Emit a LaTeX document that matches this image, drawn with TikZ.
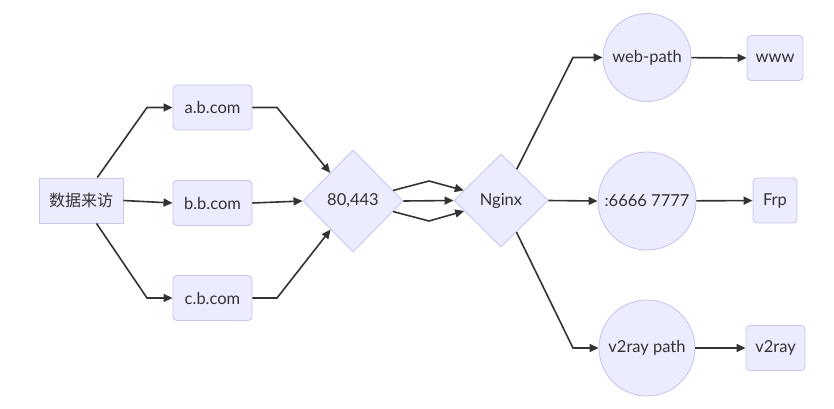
\documentclass[tikz,border=0pt]{standalone}
\usepackage{fontspec}
\setmainfont{Lato}
\newfontfamily\cjk{Noto Sans CJK SC}
\usetikzlibrary{shapes.geometric,arrows.meta}
\definecolor{nfill}{HTML}{ECECFF}
\definecolor{nline}{HTML}{C9C6EE}
\definecolor{eline}{HTML}{333333}
\tikzset{
  base/.style={draw=nline, fill=nfill, line width=0.9pt, text=eline, font=\fontsize{16.5}{19}\selectfont, inner sep=0pt},
  sqbox/.style={base, rectangle, minimum height=45},
  rbox/.style={base, rectangle, rounded corners=4, minimum height=45},
  dia/.style={base, diamond},
  circ/.style={base, circle},
  edge/.style={draw=eline, line width=1.6pt, -{Triangle[length=9pt,width=8pt]}},
}
\begin{document}
\begin{tikzpicture}[x=1pt,y=-1pt]
\useasboundingbox (0,0) rectangle (834,408);
\node[sqbox, minimum width=84, font=\cjk\fontsize{16}{19}\selectfont] (src) at (81,200.5) {数据来访};
\node[rbox, minimum width=79] (a) at (212.5,107.5) {a.b.com};
\node[rbox, minimum width=79] (b) at (212.5,203) {b.b.com};
\node[rbox, minimum width=79] (c) at (212.5,298) {c.b.com};
\node[dia, minimum width=100, minimum height=102] (d1) at (353,201) {80,443};
\node[dia, minimum width=94, minimum height=93] (ng) at (501,200.5) {Nginx};
\node[circ, minimum size=88] (web) at (647,57.5) {web-path};
\node[circ, minimum size=98] (port) at (647,201) {:6666 7777};
\node[circ, minimum size=96] (v2p) at (647,348) {v2ray path};
\node[rbox, minimum width=56] (www) at (775,58) {www};
\node[rbox, minimum width=44] (frp) at (775,200.5) {Frp};
\node[rbox, minimum width=59] (v2) at (775.5,348) {v2ray};

\coordinate (p1) at (147,107.5);
\coordinate (p2) at (147,298);
\coordinate (p3) at (277,107.5);
\coordinate (p4) at (277,298);
\coordinate (p5) at (429,181);
\coordinate (p6) at (429,221);
\coordinate (p7) at (573,57.5);
\coordinate (p8) at (573,348);

\draw[edge] (src) -- (p1) -- (a);
\draw[edge] (src.east) -- (b.west);
\draw[edge] (src) -- (p2) -- (c);
\draw[edge] (a) -- (p3) -- (d1);
\draw[edge] (b.east) -- (d1.west);
\draw[edge] (c) -- (p4) -- (d1);
\draw[edge] (d1) -- (p5) -- (ng);
\draw[edge] (d1.east) -- (ng.west);
\draw[edge] (d1) -- (p6) -- (ng);
\draw[edge] (ng) -- (p7) -- (web);
\draw[edge] (ng.east) -- (port.west);
\draw[edge] (ng) -- (p8) -- (v2p);
\draw[edge] (web) -- (www);
\draw[edge] (port) -- (frp);
\draw[edge] (v2p) -- (v2);
\end{tikzpicture}
\end{document}
